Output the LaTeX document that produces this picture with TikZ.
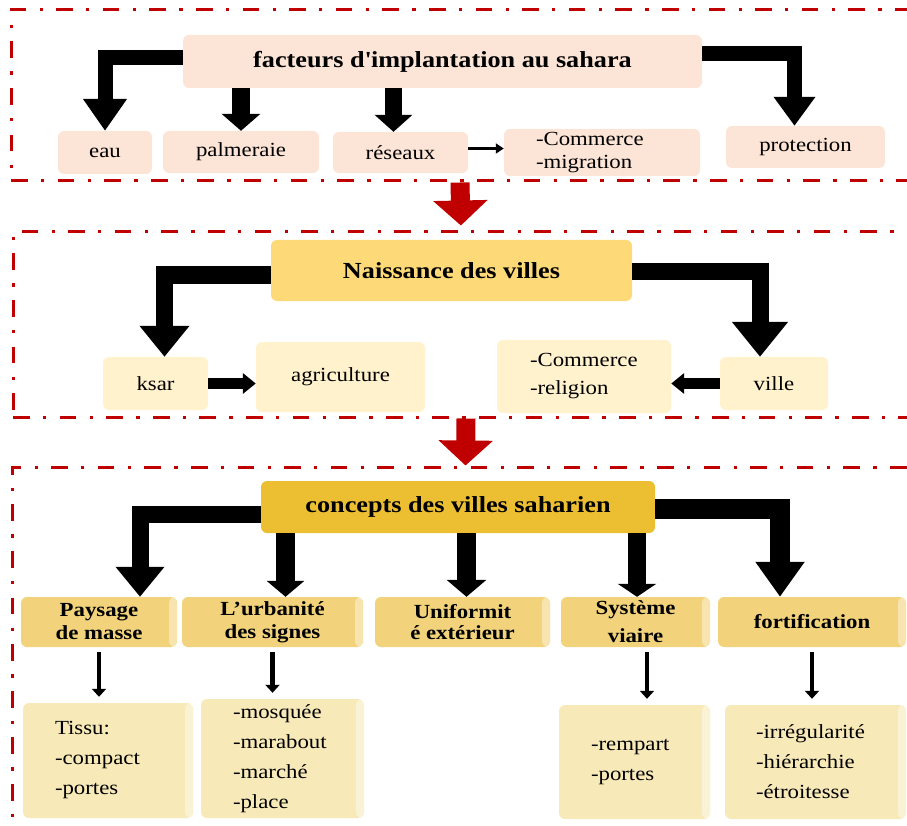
\documentclass[tikz,border=0pt]{standalone}
\usepackage{fontspec}
\setmainfont{Liberation Serif}[FakeStretch=1.14]
\usetikzlibrary{arrows.meta}
\definecolor{darkred}{HTML}{C00000}
\definecolor{peach}{HTML}{FCE4D6}
\definecolor{goldlight}{HTML}{FDD978}
\definecolor{cream}{HTML}{FFF2CC}
\definecolor{goldbar}{HTML}{ECBF33}
\definecolor{goldmid}{HTML}{F2D37B}
\definecolor{goldpale}{HTML}{F8EAB8}
\tikzstyle{frame}=[draw=darkred,line width=3pt,dash pattern=on 16.7pt off 13.3pt on 3.3pt off 13.3pt,inner sep=0pt]
\tikzstyle{box}=[rounded corners=6pt,inner sep=0pt,align=center,font=\fontsize{20}{23}\selectfont]
\tikzstyle{box top}=[box,fill=peach]
\tikzstyle{box mid}=[box,fill=cream]
\tikzstyle{title}=[box,font=\fontsize{23}{27}\selectfont\bfseries]
\tikzstyle{strip}=[path picture={\fill[white,opacity=.4] ([xshift=-8pt]path picture bounding box.north east) rectangle (path picture bounding box.south east);}]
\tikzstyle{concept}=[box,strip,fill=goldmid,minimum height=50pt,font=\fontsize{20}{23}\selectfont\bfseries]
\tikzstyle{detail}=[box,strip,fill=goldpale,align=left,font=\fontsize{20}{30}\selectfont]
\tikzstyle{block}=[line width=17pt,-{Triangle[width=46pt,length=32pt]}]
\tikzstyle{mid arrow}=[line width=11pt,-{Triangle[width=20pt,length=13pt]}]
\tikzstyle{thin arrow}=[line width=3.5pt,-{Triangle[width=10pt,length=8pt]}]
\tikzstyle{small arrow}=[line width=4.5pt,-{Triangle[width=14pt,length=8pt]},shorten <=5pt,shorten >=6pt]
\tikzstyle{red arrow}=[darkred,line width=19pt,-{Triangle[width=53pt,length=25pt]}]

\begin{document}
\begin{tikzpicture}[x=1pt,y=-1pt]
	\useasboundingbox (0,0) rectangle (907,826);
% frames
	\node[frame,minimum width=924pt,minimum height=171pt](f1) at (473,95.5){};
	\node[frame,minimum width=922pt,minimum height=185pt](f2) at (474,324.5){};
	\node[frame,minimum width=923pt,minimum height=400pt](f3) at (473.5,667){};

% facteurs
	\node[title,fill=peach,minimum width=519pt,minimum height=53pt](fac) at (442.5,61.5){facteurs d\textquotesingle implantation au sahara};
	\node[box top,minimum width=94pt,minimum height=43pt](eau) at (105,152.5){eau};
	\node[box top,minimum width=156pt,minimum height=42pt](palm) at (241,152){palmeraie};
	\node[box top,minimum width=135pt,minimum height=41pt](res) at (400.5,152.5){réseaux};
	\node[box top,minimum width=196pt,minimum height=47pt,text width=132pt,align=left](comm) at (602,152.5){-Commerce\\-migration};
	\node[box top,minimum width=159pt,minimum height=42pt](prot) at (805.5,147){protection};

% naissance
	\node[title,fill=goldlight,minimum width=361pt,minimum height=61pt](nais) at (451.5,270.5){Naissance des villes};
	\node[box mid,minimum width=105pt,minimum height=53pt](ksar) at (155.5,383.5){ksar};
	\node[box mid,minimum width=169pt,minimum height=70pt](agri) at (340.5,377){agriculture};
	\node[box mid,minimum width=174pt,minimum height=73pt,text width=108pt,align=left,font=\fontsize{20}{28}\selectfont](comrel) at (584,376.5){-Commerce\\-religion};
	\node[box mid,minimum width=108pt,minimum height=53pt](ville) at (774,383.5){ville};

% concepts
	\node[title,fill=goldbar,minimum width=394pt,minimum height=52pt](conc) at (458,507){concepts des villes saharien};
	\node[concept,minimum width=156pt](pay) at (99,622){Paysage\\de masse};
	\node[concept,minimum width=181pt](urb) at (272.5,622){L’urbanité\\des signes};
	\node[concept,minimum width=175pt,font=\fontsize{20}{21}\selectfont\bfseries](uni) at (462.5,622){Uniformit\\é extérieur};
	\node[concept,minimum width=149pt,font=\fontsize{20}{28}\selectfont\bfseries](sys) at (635.5,622){Système\\viaire};
	\node[concept,minimum width=188pt](fort) at (812,622){fortification};

	\node[detail,minimum width=170pt,minimum height=115pt,text width=106pt](tissu) at (108,760.5){Tissu:\\-compact\\-portes};
	\node[detail,minimum width=163pt,minimum height=119pt,text width=99pt](mosq) at (282.5,758.5){-mosquée\\-marabout\\-marché\\-place};
	\node[detail,minimum width=151pt,minimum height=114pt,text width=87pt](remp) at (634.5,762){-rempart\\-portes};
	\node[detail,minimum width=181pt,minimum height=114pt,text width=119pt](irr) at (815.5,762){-irrégularité\\-hiérarchie\\-étroitesse};

% red arrows between frames
	\draw[red arrow,shorten >=5pt] ([xshift=-13pt]f1.south) -- ([xshift=-13pt]f2.north);
	\draw[red arrow] ([xshift=-8pt]f2.south) -- ([xshift=-8pt]f3.north);

% facteurs to factors
	\coordinate (rs) at ([xshift=-7pt]res.north);
	\coordinate (pr) at ([xshift=-11pt]prot.north);
	\draw[block,line width=15pt,-{Triangle[width=42pt,length=32pt]}] ([yshift=3.5pt]fac.west) -| (eau.north);
	\draw[block,line width=18pt,-{Triangle[width=38pt,length=17pt]}] (palm.north |- fac.south) -- (palm.north);
	\draw[block,line width=17pt,-{Triangle[width=37pt,length=17pt]}] (rs |- fac.south) -- (rs);
	\draw[block,line width=15pt,-{Triangle[width=40pt,length=29pt]}] ([yshift=7.5pt]fac.east) -| (pr);
	\draw[thin arrow] ([yshift=4pt]res.east) -- ([yshift=4pt]comm.west);

% naissance to ksar / ville
	\coordinate (ks) at ([xshift=9pt]ksar.north);
	\coordinate (vl) at ([xshift=-14pt]ville.north);
	\draw[block,-{Triangle[width=48pt,length=31pt]}] ([yshift=-4.5pt]nais.west) -| (ks);
	\draw[block,-{Triangle[width=54pt,length=35pt]}] ([yshift=-1pt]nais.east) -| (vl);
	\draw[mid arrow] (ksar.east) -- (ksar.east -| agri.west);
	\draw[mid arrow] (ville.west) -- (ville.west -| comrel.east);

% concepts to the five ideas
	\coordinate (py) at ([xshift=41pt]pay.north);
	\coordinate (ub) at ([xshift=13pt]urb.north);
	\coordinate (un) at ([xshift=4pt]uni.north);
	\coordinate (sy) at ([xshift=1.5pt]sys.north);
	\coordinate (ft) at ([xshift=-32pt]fort.north);
	\draw[block,-{Triangle[width=47pt,length=30pt]}] ([yshift=-7pt]conc.west) -| (py);
	\draw[block,line width=19pt,-{Triangle[width=37pt,length=16pt]}] (ub |- conc.south) -- (ub);
	\draw[block,line width=19pt,-{Triangle[width=39pt,length=17pt]}] (un |- conc.south) -- (un);
	\draw[block,line width=18pt,-{Triangle[width=38pt,length=13pt]}] (sy |- conc.south) -- (sy);
	\draw[block,line width=20pt,-{Triangle[width=47pt,length=35pt]}] ([yshift=-2pt]conc.east) -| (ft);

% ideas to details
	\coordinate (sv) at ([xshift=11.5pt]sys.south);
	\draw[small arrow] (pay.south) -- (pay.south |- tissu.north);
	\draw[small arrow] (urb.south) -- (urb.south |- mosq.north);
	\draw[small arrow] (sv) -- (sv |- remp.north);
	\draw[small arrow] (fort.south) -- (fort.south |- irr.north);
\end{tikzpicture}
\end{document}
